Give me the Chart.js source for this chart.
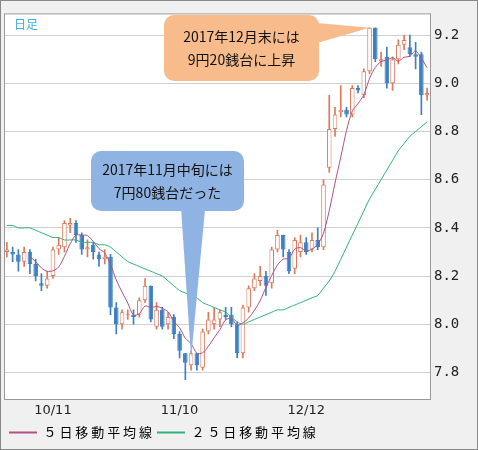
<!DOCTYPE html>
<html><head><meta charset="utf-8">
<script src="https://cdn.jsdelivr.net/npm/chart.js@4"></script>
<style>html,body{margin:0;padding:0;background:#fff}#w{width:476px;height:448px;border:1px solid #888;}</style>
</head><body><div id="w"><canvas id="c" width="476" height="448"></canvas></div>
<script>
const dates = [];
const xLabels = {8:'10/11',30:'11/10',52:'12/12'};
const opens  = [8.30,8.30,8.29,8.26,8.30,8.25,8.17,8.16,8.20,8.31,8.32,8.41,8.42,8.37,8.31,8.33,8.29,8.27,8.28,8.07,8.00,8.04,8.04,8.04,8.10,8.16,7.99,8.06,8.00,8.03,7.96,7.88,7.83,7.88,7.82,7.97,8.00,8.02,8.04,8.04,8.00,7.88,8.07,8.15,8.18,8.20,8.17,8.31,8.37,8.30,8.23,8.30,8.34,8.31,8.35,8.32,8.65,8.81,8.88,8.89,8.87,8.98,8.95,9.05,9.23,9.09,9.11,9.00,9.10,9.16,9.15,9.12,9.12,8.95];
const closes = [8.31,8.29,8.26,8.30,8.25,8.20,8.16,8.19,8.31,8.33,8.42,8.42,8.37,8.31,8.32,8.30,8.27,8.28,8.07,8.00,8.05,8.04,8.03,8.10,8.16,8.02,8.06,7.99,8.03,7.96,7.89,7.84,7.88,7.83,7.97,8.02,8.02,8.05,8.03,8.00,7.88,8.07,8.15,8.19,8.20,8.16,8.31,8.37,8.31,8.22,8.35,8.34,8.30,8.35,8.32,8.58,8.81,8.87,8.89,8.87,8.98,8.97,9.05,9.23,9.10,9.10,9.00,9.10,9.16,9.18,9.12,9.11,8.95,8.96];
const highs  = [8.34,8.32,8.31,8.32,8.31,8.27,8.21,8.22,8.32,8.36,8.43,8.44,8.43,8.38,8.35,8.34,8.30,8.31,8.29,8.09,8.06,8.06,8.06,8.11,8.19,8.16,8.09,8.07,8.05,8.04,7.97,7.88,7.89,7.88,7.98,8.05,8.07,8.06,8.07,8.07,8.01,8.08,8.16,8.21,8.24,8.22,8.32,8.39,8.37,8.31,8.36,8.37,8.36,8.38,8.40,8.60,8.95,8.90,8.99,8.90,8.99,8.99,9.06,9.23,9.23,9.13,9.15,9.11,9.18,9.20,9.20,9.17,9.13,8.98];
const lows   = [8.28,8.26,8.22,8.24,8.21,8.18,8.14,8.15,8.19,8.29,8.30,8.38,8.34,8.29,8.28,8.27,8.24,8.25,8.04,7.96,7.98,8.02,8.00,8.03,8.09,8.01,7.98,7.98,7.98,7.94,7.86,7.77,7.81,7.81,7.81,7.96,7.98,7.99,8.02,7.99,7.86,7.86,8.05,8.14,8.16,8.12,8.15,8.30,8.28,8.21,8.21,8.28,8.29,8.30,8.31,8.31,8.63,8.78,8.86,8.86,8.86,8.96,8.94,9.04,9.09,9.07,8.98,8.97,9.08,9.14,9.11,9.06,8.87,8.93];
const ma25   = [8.41,8.41,8.40,8.40,8.40,8.39,8.38,8.37,8.36,8.36,8.35,8.35,8.35,8.34,8.34,8.34,8.33,8.33,8.32,8.30,8.28,8.26,8.25,8.24,8.23,8.22,8.21,8.20,8.18,8.16,8.14,8.13,8.12,8.11,8.09,8.08,8.07,8.06,8.05,8.03,8.01,8.00,8.01,8.02,8.03,8.04,8.05,8.06,8.06,8.07,8.08,8.09,8.10,8.11,8.12,8.15,8.18,8.22,8.27,8.32,8.37,8.42,8.47,8.52,8.56,8.60,8.64,8.68,8.72,8.75,8.78,8.80,8.82,8.84];
const yTicks = [7.8,8.0,8.2,8.4,8.6,8.8,9.0,9.2];
const seriesNames = ['５日移動平均線','２５日移動平均線'];
const notes = [
  {lines:['2017年12月末には','9円20銭台に上昇'], idx:63, val:9.23, color:'#f8bb8c', box:[163,14,318,80]},
  {lines:['2017年11月中旬には','7円80銭台だった'], idx:32, val:7.86, color:'#8fb4e3', box:[90,150,243,210]}
];
const n = closes.length;
for (let i=0;i<n;i++) dates.push(xLabels[i]||'');
const ma5 = closes.map((c,i)=> i<4?null: (closes.slice(i-4,i+1).reduce((a,b)=>a+b,0)/5));
const up = closes.map((c,i)=>c>=opens[i]);
const RED='#e0785a', BLUE='#3b80c2';

const bgPlugin = {id:'bg', beforeDraw(ch){const {ctx,chartArea:a}=ch;ctx.save();ctx.fillStyle='#f0f0f0';ctx.fillRect(0,0,ch.width,ch.height);ctx.fillStyle='#fff';ctx.fillRect(a.left,a.top,a.right-a.left,a.bottom-a.top);ctx.restore();},
  afterDraw(ch){const {ctx,chartArea:a,scales}=ch;ctx.save();
    ctx.strokeStyle='#999';ctx.lineWidth=1;ctx.strokeRect(a.left+0.5,a.top+0.5,a.right-a.left,a.bottom-a.top);
    ctx.fillStyle='#3fb0e0';ctx.font='12px "Noto Sans CJK JP"';ctx.textBaseline='middle';ctx.fillText('日足',a.left+10,a.top+11);
    notes.forEach(nt=>{const [x1,y1,x2,y2]=nt.box;const tx=scales.x.getPixelForValue(nt.idx), ty=scales.y.getPixelForValue(nt.val);
      ctx.fillStyle=nt.color;ctx.beginPath();ctx.roundRect(x1,y1,x2-x1,y2-y1,10);ctx.fill();
      ctx.beginPath();
      if(ty<y1+ (y2-y1)/2 && tx>x2){ctx.moveTo(x2-2,y1+8);ctx.lineTo(tx,ty);ctx.lineTo(x2-2,y1+28);}
      else {ctx.moveTo(tx-10,y2-2);ctx.lineTo(tx,ty);ctx.lineTo(tx+14,y2-2);}
      ctx.closePath();ctx.fill();
      ctx.fillStyle='#111';ctx.font='14px "Noto Sans CJK JP"';ctx.textAlign='center';
      const cx=(x1+x2)/2, cy=(y1+y2)/2;ctx.fillText(nt.lines[0],cx,cy-11);ctx.fillText(nt.lines[1],cx,cy+12);});
    ctx.restore();}};

new Chart(document.getElementById('c'),{
  type:'bar',
  data:{labels:dates,datasets:[
    {type:'line',label:seriesNames[0],data:ma5,borderColor:'#b0508a',borderWidth:1,pointRadius:0,tension:0.3,order:0},
    {type:'line',label:seriesNames[1],data:ma25,borderColor:'#2fb37a',borderWidth:1,pointRadius:0,tension:0.3,order:0},
    {label:'body',data:opens.map((o,i)=>[o,closes[i]===o?o+0.004:closes[i]]),backgroundColor:up.map(u=>u?'#fff':BLUE),borderColor:up.map(u=>u?RED:BLUE),borderWidth:1,borderSkipped:false,grouped:false,barPercentage:0.8,categoryPercentage:1,order:2},
    {label:'wick',data:lows.map((l,i)=>[l,highs[i]]),backgroundColor:up.map(u=>u?RED:BLUE),barThickness:1,grouped:false,order:3}
  ]},
  options:{responsive:false,animation:false,devicePixelRatio:1,
    layout:{padding:{left:3,top:3,right:0,bottom:0}},
    plugins:{tooltip:{enabled:false},
      legend:{position:'bottom',align:'start',labels:{color:'#222',font:{size:13,family:'"Noto Sans CJK JP"'},boxWidth:28,boxHeight:0,padding:5,
        generateLabels:ch=>ch.data.datasets.slice(0,2).map((d,i)=>({text:d.label.split('').join(' '),strokeStyle:d.borderColor,fillStyle:d.borderColor,lineWidth:2,datasetIndex:i}))}}},
    scales:{
      x:{grid:{color:ctx=>xLabels[ctx.index]?'#d0d0d0':'rgba(0,0,0,0)',drawTicks:false},border:{display:false},afterFit:s=>{s.height=22;},
        ticks:{autoSkip:false,maxRotation:0,color:'#222',font:{size:13,family:'"DejaVu Sans"'},padding:4,callback:(v,i)=>xLabels[i]||null}},
      y:{position:'right',min:7.69,max:9.29,grid:{color:'#d0d0d0',drawTicks:false},border:{display:false},
        afterBuildTicks:s=>{s.ticks=yTicks.map(v=>({value:v}));},afterFit:s=>{s.width=47;},
        ticks:{color:'#222',padding:4,font:{size:14,family:'"DejaVu Sans Mono"'},callback:v=>v.toFixed(1)}}
    }},
  plugins:[bgPlugin]
});
</script></body></html>
